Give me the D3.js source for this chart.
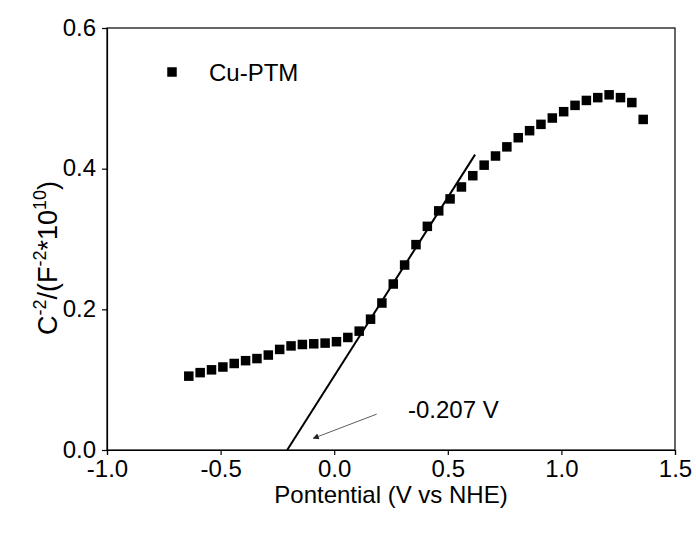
<!DOCTYPE html>
<html><head><meta charset="utf-8">
<script src="https://cdn.jsdelivr.net/npm/d3@7"></script>
<style>body{margin:0;background:#fff}svg{display:block}text{font-family:"Liberation Sans",Arial,sans-serif;fill:#000}</style>
</head><body><svg id="c" width="696" height="534"></svg>
<script>
const potential = [-0.64,-0.59,-0.54,-0.49,-0.44,-0.39,-0.34,-0.29,-0.24,-0.19,-0.14,-0.09,-0.04,0.01,0.06,0.11,0.16,0.21,0.26,0.31,0.36,0.41,0.46,0.51,0.56,0.61,0.66,0.71,0.76,0.81,0.86,0.91,0.96,1.01,1.06,1.11,1.16,1.21,1.26,1.31,1.36];
const cMinus2 = [0.105,0.110,0.114,0.118,0.123,0.127,0.130,0.135,0.143,0.148,0.150,0.151,0.152,0.154,0.160,0.169,0.186,0.209,0.236,0.263,0.292,0.318,0.340,0.357,0.374,0.390,0.405,0.418,0.431,0.444,0.454,0.463,0.472,0.481,0.490,0.497,0.501,0.505,0.501,0.494,0.470];
const fitX = [-0.207, 0.62];
const fitY = [0, 0.42];
const xTicks = [-1.0,-0.5,0.0,0.5,1.0,1.5];
const yTicks = [0.0,0.2,0.4,0.6];
const seriesName = "Cu-PTM";
const annotText = "-0.207 V";

const FS = 24;
const svg = d3.select("#c");
const L=107,R=675,T=28,B=450;
const x = d3.scaleLinear().domain([-1.0,1.5]).range([L,R]);
const y = d3.scaleLinear().domain([0,0.6]).range([B,T]);
const fmt = d => d.toFixed(1);

// frame
svg.append("rect").attr("x",L).attr("y",T).attr("width",R-L).attr("height",B-T)
  .attr("fill","none").attr("stroke","#000").attr("stroke-width",1.2);

const xa = svg.append("g").attr("transform",`translate(0,${B})`)
  .call(d3.axisBottom(x).tickValues(xTicks).tickFormat(fmt).tickSize(5).tickPadding(5));
const ya = svg.append("g").attr("transform",`translate(${L},0)`)
  .call(d3.axisLeft(y).tickValues(yTicks).tickFormat(fmt).tickSize(5).tickPadding(6));
[xa,ya].forEach(g=>{
  g.attr("font-size",FS).attr("font-family","Liberation Sans, Arial, sans-serif");
  g.select(".domain").attr("stroke","#000").attr("stroke-width",1.2);
  g.selectAll(".tick line").attr("stroke","#000").attr("stroke-width",1.2);
  g.selectAll(".tick text").attr("fill","#000");
});
ya.selectAll(".tick text").attr("dy","0.30em");

// fit line
svg.append("line").attr("x1",x(fitX[0])).attr("y1",y(fitY[0])).attr("x2",x(fitX[1])).attr("y2",y(fitY[1]))
  .attr("stroke","#000").attr("stroke-width",2);

// points
const s=9.5;
svg.append("g").selectAll("rect").data(potential.map((p,i)=>[p,cMinus2[i]])).join("rect")
  .attr("x",d=>x(d[0])-s/2).attr("y",d=>y(d[1])-s/2).attr("width",s).attr("height",s).attr("fill","#000");

// arrow
const defs = svg.append("defs");
defs.append("marker").attr("id","ah").attr("viewBox","0 0 10 10").attr("refX",9).attr("refY",5)
  .attr("markerWidth",10).attr("markerHeight",6).attr("markerUnits","userSpaceOnUse").attr("orient","auto")
  .append("path").attr("d","M0,0 L10,5 L0,10 Z").attr("fill","#222");
svg.append("line").attr("x1",x(0.187)).attr("y1",y(0.051)).attr("x2",x(-0.092)).attr("y2",y(0.0166))
  .attr("stroke","#333").attr("stroke-width",0.8).attr("marker-end","url(#ah)");
svg.append("text").attr("x",408).attr("y",418).attr("font-size",FS).text(annotText);

// legend
svg.append("rect").attr("x",172-s/2).attr("y",72-s/2).attr("width",s).attr("height",s).attr("fill","#000");
svg.append("text").attr("x",209).attr("y",81).attr("font-size",FS).text(seriesName);

// axis titles
svg.append("text").attr("x",(L+R)/2).attr("y",503).attr("text-anchor","middle").attr("font-size",FS).text("Pontential (V vs NHE)");
const yt = svg.append("text").attr("transform",`translate(57,258) rotate(-90)`).attr("text-anchor","middle").attr("font-size",27);
const SUP=18;
yt.append("tspan").text("C");
yt.append("tspan").attr("font-size",SUP).attr("dy",-11).text("-2");
yt.append("tspan").attr("dy",11).text("/(F");
yt.append("tspan").attr("font-size",SUP).attr("dy",-11).text("-2");
yt.append("tspan").attr("dy",11).text("*10");
yt.append("tspan").attr("font-size",SUP).attr("dy",-11).text("10");
yt.append("tspan").attr("dy",11).text(")");
</script></body></html>
